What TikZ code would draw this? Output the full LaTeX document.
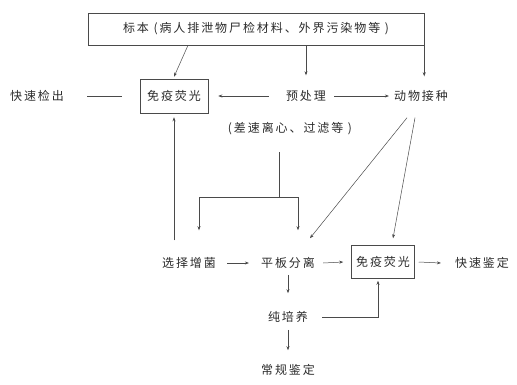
\documentclass[tikz,border=0pt]{standalone}
\usepackage{fontspec}
\newfontfamily\cjk{Noto Sans CJK SC}[LetterSpace=16]
\usepackage{xcolor}
\definecolor{cInk} {HTML}{2B2B2B}
\definecolor{cLine}{HTML}{4A4A4A}
\usetikzlibrary{arrows.meta, positioning, calc}
\tikzset{
  lbl/.style  = {font=\cjk\fontsize{12}{14}\selectfont, text=cInk,
                 inner sep=1pt},
  blk/.style  = {lbl, rectangle, draw=cLine, line width=0.5pt,
                 minimum width=#1, minimum height=33pt},
  blk/.default = 66pt,
  ln/.style   = {cLine, line width=0.5pt},
  arr/.style  = {ln, -{Stealth[length=4pt, width=3pt]}},
}

\begin{document}
\begin{tikzpicture}[x=1pt, y=-1pt]
  \useasboundingbox (0,0) rectangle (517,384);

  % top row
  \node[blk=336pt, minimum height=32pt] (spec) at (256,29)
        {标本 (病人排泄物尸检材料、外界污染物等 )};

  \node[lbl]     (fast)   at (37,96)  {快速检出};
  \node[blk=68pt, minimum height=34pt] (if1) at (174,96) {免疫荧光};
  \node[lbl]     (pre)    at (306,96) {预处理};
  \node[lbl]     (animal) at (421,96) {动物接种};
  \node[lbl]     (note)   at (290,129) {(差速离心、过滤等 )};

  % culture rows
  \node[lbl]     (sel)     at (189,263) {选择增菌};
  \node[lbl]     (plate)   at (288,263) {平板分离};
  \node[blk=63pt] (if2)    at (383,262) {免疫荧光};
  \node[lbl]     (quick)   at (482,263) {快速鉴定};
  \node[lbl]     (pure)    at (288,317) {纯培养};
  \node[lbl]     (routine) at (288,370) {常规鉴定};

  \coordinate (split) at (279,197);

  \draw[arr] ($(spec.south)+(-68,0)$) -- ($(if1.north)+(0,-2)$);
  \draw[arr] (spec.south -| pre.north) -- ($(pre.north)+(0,-14)$);
  \draw[arr] (spec.south east) -- ($(spec.south east |- animal.north)+(0,-13)$);

  \draw[ln]  ($(fast.east)+(22,0)$) -- ($(if1.west)+(-18,0)$);
  \draw[arr] ($(pre.west)+(-16,0)$) -- ($(if1.east)+(10,0)$);
  \draw[arr] ($(pre.east)+(7,0)$) -- ($(animal.west)+(-4,0)$);

  \draw[ln]  ($(note.south -| split)+(0,16)$) -- (split);
  \draw[arr] (split) -| ($(sel.north)+(10,-26)$);
  \draw[arr] (split) -| ($(plate.north)+(10,-26)$);

  \draw[arr] ($(animal.south)+(-14,15)$) -- ($(plate.north)+(22,-18)$);
  \draw[arr] ($(animal.south)+(-6,15)$) -- ($(if2.north)+(10,-7)$);

  \draw[arr] ($(sel.north -| if1.south)+(0,-16)$) -- ($(if1.south)+(0,4)$);

  \draw[arr] ($(sel.east)+(10,0)$) -- ($(plate.west)+(-11,0)$);
  \draw[arr] ($(plate.east)+(7,0)$) -- ($(if2.west)+(-8,0)$);
  \draw[arr] ($(if2.east)+(4,0)$) -- ($(quick.west)+(-13,0)$);

  \draw[arr] ($(plate.south)+(0,5)$) -- ($(pure.north)+(0,-17)$);
  \draw[arr] ($(pure.east)+(13,0)$) -| ($(if2.south)+(-5,2)$);
  \draw[arr] ($(pure.south)+(0,6)$) -- ($(routine.north)+(0,-13)$);

\end{tikzpicture}
\end{document}
